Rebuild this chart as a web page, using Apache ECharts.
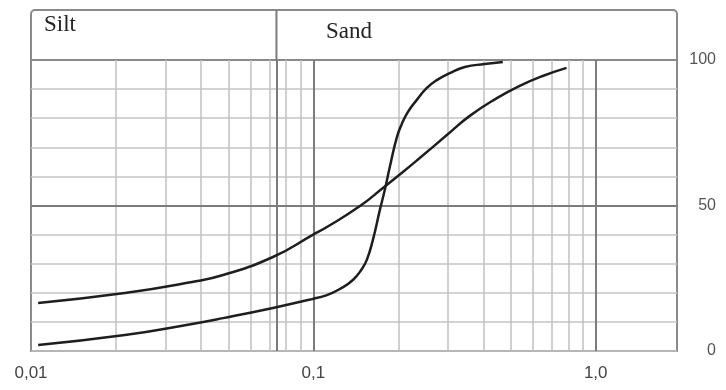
<!DOCTYPE html>
<html>
<head>
<meta charset="utf-8">
<script src="https://cdn.jsdelivr.net/npm/echarts@6/dist/echarts.min.js"></script>
<style>
  html, body { margin: 0; padding: 0; background: #fff; }
  #chart { width: 726px; height: 390px; }
</style>
</head>
<body>
<div id="chart"></div>
<script>
// grain size (mm) vs percent passing
const sizesA = [0.0106, 0.0215, 0.0372, 0.0479, 0.0719, 0.0995, 0.1117, 0.1462, 0.1763, 0.2075, 0.238, 0.297, 0.358, 0.4465, 0.538, 0.649, 0.788];
const passA = [16.5, 19.9, 23.7, 26.1, 32.3, 39.9, 42.6, 49.8, 56.0, 61.5, 66.3, 74.2, 80.8, 86.9, 91.1, 94.5, 97.3];

const sizesB = [0.0106, 0.0215, 0.0372, 0.0479, 0.0719, 0.0995, 0.1117, 0.1241, 0.138, 0.1485, 0.1546, 0.1624, 0.172, 0.179, 0.1865, 0.1976, 0.2057, 0.216, 0.2325, 0.2523, 0.2736, 0.3042, 0.3438, 0.4046, 0.4688];
const passB = [2.1, 5.5, 9.3, 11.3, 14.8, 17.9, 19.2, 21.3, 24.4, 28.2, 31.3, 38.1, 48.5, 55.3, 63.2, 73.5, 78.0, 82.1, 86.3, 90.4, 93.1, 95.5, 97.6, 98.6, 99.3];

// log grid
const minorX = [0.02, 0.03, 0.04, 0.05, 0.06, 0.07, 0.08, 0.09, 0.2, 0.3, 0.4, 0.5, 0.6, 0.7, 0.8, 0.9];
const majorX = [0.074, 0.1, 1];
const majorY = [50];
const xTickLabels = { "-2": "0,01", "-1": "0,1", "0": "1,0" };
const yTickLabels = [0, 50, 100];
const zones = ["Silt", "Sand"];
const siltSandLimit = 0.074;

const pairs = (xs, ys) => xs.map((x, i) => [x, ys[i]]);

const chart = echarts.init(document.getElementById("chart"));

const option = {
  animation: false,
  grid: {
    left: 31,
    right: 49,
    top: 60,
    bottom: 39,
    show: true,
    borderColor: "#8a8a8a",
    borderWidth: 2,
  },
  xAxis: {
    type: "log",
    logBase: 10,
    min: 0.01,
    max: 1.94,
    axisLine: { show: false },
    axisTick: { show: false },
    splitLine: { show: false },
    axisLabel: {
      showMaxLabel: false,
      margin: 14,
      color: "#444",
      fontFamily: "Liberation Sans",
      fontSize: 17,
      formatter: function (v) {
        const k = String(Math.round(Math.log10(v)));
        return xTickLabels[k] || "";
      },
    },
  },
  yAxis: {
    type: "value",
    position: "right",
    min: 0,
    max: 100,
    interval: 10,
    axisLine: { show: false },
    axisTick: { show: false },
    splitLine: { show: true, lineStyle: { color: "#c4c4c4", width: 1.5 } },
    axisLabel: {
      margin: 39,
      align: "right",
      color: "#555",
      fontFamily: "Liberation Sans",
      fontSize: 16,
      formatter: function (v) {
        return yTickLabels.indexOf(v) >= 0 ? String(v) : "";
      },
    },
  },
  series: [
    {
      // thin log grid lines
      type: "line",
      data: [],
      silent: true,
      markLine: {
        silent: true,
        symbol: "none",
        precision: 4,
        label: { show: false },
        lineStyle: { color: "#c0c0c0", width: 1.5, type: "solid" },
        data: minorX.map((v) => ({ xAxis: v })),
      },
    },
    {
      // heavy lines: silt/sand limit, 0.1, 1.0 and 50 %
      type: "line",
      data: [],
      silent: true,
      markLine: {
        silent: true,
        symbol: "none",
        precision: 4, // default 2 would round 0.074 to 0.07
        label: { show: false },
        lineStyle: { color: "#7c7c7c", width: 2, type: "solid" },
        data: majorX.map((v) => ({ xAxis: v })).concat(majorY.map((v) => ({ yAxis: v }))),
      },
    },
    {
      name: "A",
      type: "line",
      smooth: 0.5,
      showSymbol: false,
      lineStyle: { color: "#1e1e1e", width: 2.5 },
      data: pairs(sizesA, passA),
      z: 5,
    },
    {
      name: "B",
      type: "line",
      smooth: 0.5,
      showSymbol: false,
      lineStyle: { color: "#1e1e1e", width: 2.5 },
      data: pairs(sizesB, passB),
      z: 5,
    },
  ],
};

chart.setOption(option);

// header strip with zone names, divider follows the silt/sand limit
const left = chart.convertToPixel({ xAxisIndex: 0 }, 0.01);
const right = chart.convertToPixel({ xAxisIndex: 0 }, 1.94);
const limitX = chart.convertToPixel({ xAxisIndex: 0 }, siltSandLimit);
const top100 = chart.convertToPixel({ yAxisIndex: 0 }, 100);

chart.setOption({
  graphic: [
    {
      type: "rect",
      shape: { x: left, y: 10, width: right - left, height: top100 - 10, r: [4, 4, 0, 0] },
      style: { fill: "none", stroke: "#8a8a8a", lineWidth: 2 },
      silent: true,
    },
    {
      type: "line",
      shape: { x1: limitX, y1: 10, x2: limitX, y2: top100 },
      style: { stroke: "#7c7c7c", lineWidth: 2 },
      silent: true,
    },
    {
      type: "text",
      left: 44,
      top: 13,
      style: { text: zones[0], font: "23px 'Liberation Serif'", fill: "#222" },
      silent: true,
    },
    {
      type: "text",
      left: 326,
      top: 20,
      style: { text: zones[1], font: "23px 'Liberation Serif'", fill: "#222" },
      silent: true,
    },
  ],
});

window.addEventListener("resize", function () {
  chart.resize();
});
</script>
</body>
</html>
